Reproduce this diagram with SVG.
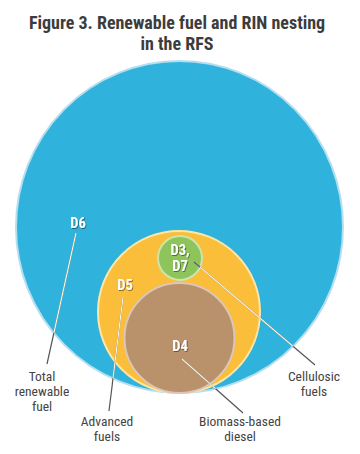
<svg xmlns="http://www.w3.org/2000/svg" width="360" height="454" viewBox="0 0 360 454">
<style>
.title{font-family:"Liberation Sans Narrow","Roboto Condensed","Liberation Sans",sans-serif;font-weight:bold;font-size:18px;fill:#3c3c3c;text-anchor:middle}
.lbl{font-family:"Liberation Sans Narrow","Roboto Condensed","Liberation Sans",sans-serif;font-size:13.5px;fill:#444;text-anchor:middle}
.in{font-family:"Liberation Sans Narrow","Roboto Condensed","Liberation Sans",sans-serif;font-weight:bold;font-size:14.5px;fill:#fff;text-anchor:middle;filter:url(#sh)}
.lead{stroke:#555;stroke-width:1.2;fill:none}
.leadw{stroke:#fdf6e0;stroke-width:1.2;fill:none}
</style>
<defs>
<filter id="sh" x="-20%" y="-20%" width="140%" height="140%"><feDropShadow dx="0.8" dy="0.8" stdDeviation="0.5" flood-color="#000" flood-opacity="0.55"/></filter>
<clipPath id="cBlue"><ellipse cx="179.5" cy="227" rx="163.5" ry="166"/></clipPath>
<clipPath id="cGreen"><circle cx="180" cy="258" r="22"/></clipPath>
</defs>
<g id="title">
<text class="title" x="177" y="29">Figure 3. Renewable fuel and RIN nesting</text>
<text class="title" x="177" y="50">in the RFS</text>
</g>
<g id="d6">
<ellipse cx="179.5" cy="227" rx="163.5" ry="166" fill="#2fb3dd" stroke="#b5def0" stroke-width="2"/>
</g>
<g id="d5">
<circle cx="179" cy="312" r="81" fill="#fbbe3b" stroke="#fde6a6" stroke-width="2"/>
</g>
<g id="d37">
<circle cx="180" cy="258" r="22" fill="#8dc45c" stroke="#cbe6ab" stroke-width="2"/>
</g>
<g id="d4">
<circle cx="179.5" cy="338" r="55" fill="#b9916b" stroke="#dcc6b8" stroke-width="2"/>
</g>
<g id="connectors">
<line class="lead" x1="76" y1="233" x2="47" y2="364"/>
<line class="lead" x1="123" y1="297" x2="109" y2="411"/>
<line class="lead" x1="182" y1="359" x2="243" y2="413"/>
<line class="lead" x1="194" y1="262" x2="315" y2="365"/>
<g clip-path="url(#cBlue)">
<line class="leadw" x1="76" y1="233" x2="47" y2="364"/>
<line class="leadw" x1="123" y1="297" x2="109" y2="411"/>
<line class="leadw" x1="182" y1="359" x2="243" y2="413"/>
<line class="leadw" x1="194" y1="262" x2="315" y2="365"/>
</g>
<g clip-path="url(#cGreen)">
<line class="lead" x1="194" y1="262" x2="315" y2="365"/>
</g>
</g>
<g id="inlabels">
<text class="in" x="78" y="228">D6</text>
<text class="in" x="125" y="290">D5</text>
<text class="in" x="180" y="255">D3,</text>
<text class="in" x="180" y="271">D7</text>
<text class="in" x="180" y="351">D4</text>
</g>
<g id="labels">
<text class="lbl" x="42" y="381">Total</text>
<text class="lbl" x="42" y="396">renewable</text>
<text class="lbl" x="42" y="411">fuel</text>
<text class="lbl" x="107" y="426">Advanced</text>
<text class="lbl" x="107" y="441">fuels</text>
<text class="lbl" x="240" y="426">Biomass-based</text>
<text class="lbl" x="240" y="441">diesel</text>
<text class="lbl" x="314" y="381">Cellulosic</text>
<text class="lbl" x="314" y="396">fuels</text>
</g>
</svg>
